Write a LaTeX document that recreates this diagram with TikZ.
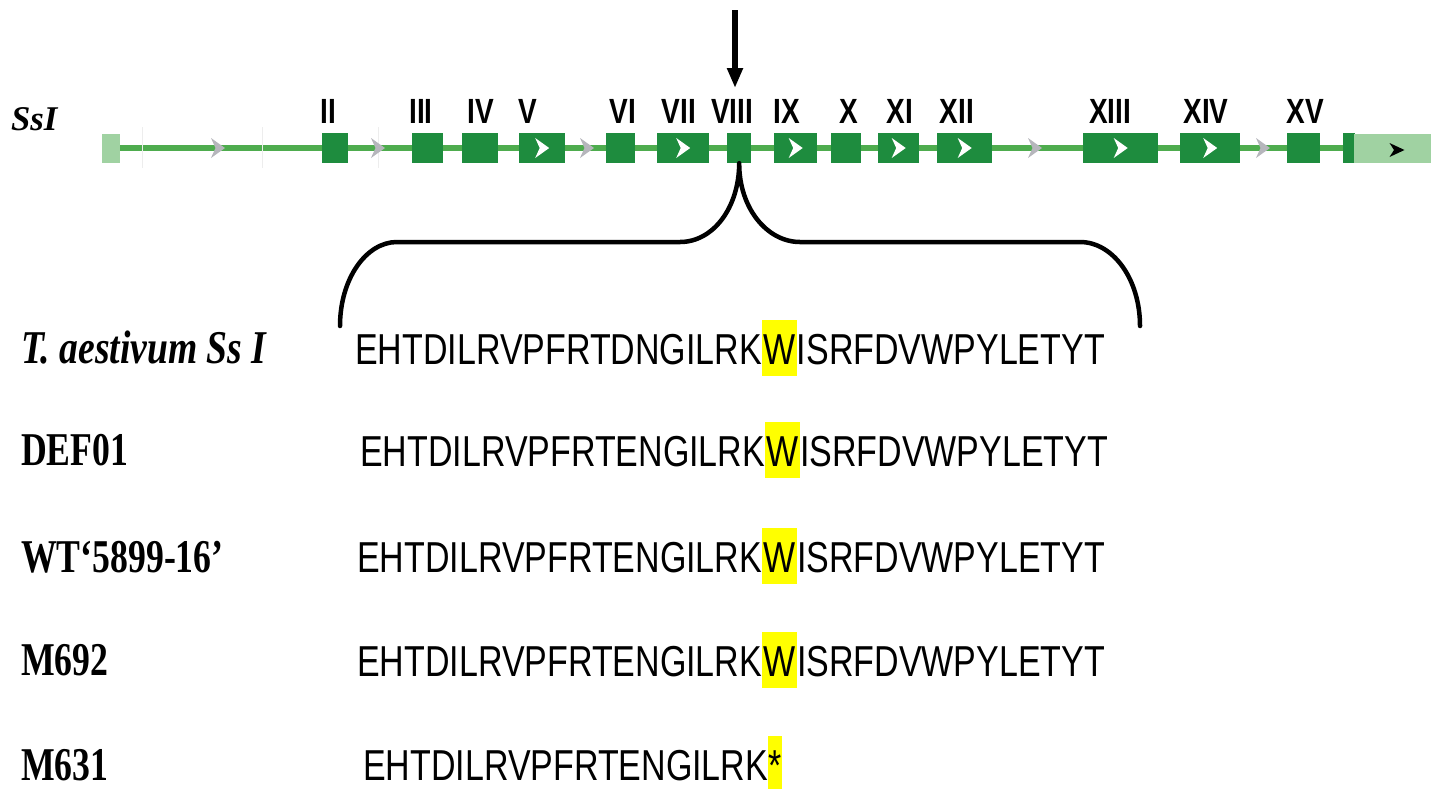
\documentclass[tikz,border=0pt]{standalone}
\usepackage{fontspec}
\usetikzlibrary{arrows.meta,backgrounds}

% fonts
\newfontfamily\seqfont[FakeStretch=0.785]{Liberation Sans}
\newfontfamily\exonfont[FakeStretch=0.80]{Liberation Sans}
\newfontfamily\lblfont[FakeStretch=0.76]{Liberation Serif}
\newfontfamily\lblitfont[FakeStretch=0.80]{Liberation Serif}
\newfontfamily\genefont{Liberation Serif}

% colours
\definecolor{exongreen}{RGB}{30,140,62}
\definecolor{introngreen}{RGB}{78,172,78}
\definecolor{utrgreen}{RGB}{160,210,162}
\definecolor{arrowgray}{RGB}{182,182,188}
\definecolor{hlyellow}{RGB}{255,255,0}

% highlighted residue
\newcommand\hlres[2][1.5pt]{{\setlength\fboxsep{0pt}\colorbox{hlyellow}{\kern#1\rule[-12pt]{0pt}{56pt}#2\kern#1}}}

\tikzset{
  exon/.style={fill=exongreen, draw=none, minimum height=30pt, inner sep=0pt, anchor=west},
  utr/.style={fill=utrgreen, draw=none, minimum height=29pt, inner sep=0pt, anchor=west},
  exonlabel/.style={anchor=base, inner sep=0pt, font=\exonfont\fontsize{35pt}{40pt}\selectfont\bfseries},
  rowlabel/.style={anchor=base west, inner sep=0pt, font=\lblfont\fontsize{47pt}{52pt}\selectfont\bfseries},
  seqrow/.style={anchor=base west, inner sep=0pt, font=\seqfont\fontsize{43.3pt}{50pt}\selectfont},
  intron/.style={draw=introngreen, line width=6pt},
  brace/.style={draw=black, line width=4.5pt, line join=round, line cap=round},
  chev/.pic={\fill (-7,-10) -- (7,0) -- (-7,10) -- (-2.5,0) -- cycle;},
  smallchev/.pic={\fill (-7.5,-7) -- (7.5,0) -- (-7.5,7) -- (-3,0) -- cycle;},
}

\begin{document}
\begin{tikzpicture}[x=1pt, y=-1pt]
\useasboundingbox (0,0) rectangle (1431,788);

% gene name
\node[anchor=base west, inner sep=0pt, font=\genefont\fontsize{34.7pt}{40pt}\selectfont\bfseries\itshape] (gene) at (11,130) {SsI};

% UTRs and exons
\node[utr, minimum width=18pt] (u1) at (102,148) {};
\foreach \n/\a/\b in {2/322/348, 3/412/443, 4/462/498, 5/519/565, 6/606/635,
                      7/657/709, 8/727/751, 9/774/817, 10/831/861, 11/878/919,
                      12/937/992, 13/1083/1158, 14/1180/1240, 15/1287/1320, 16/1343/1355}
  \node[exon, minimum width={\b-\a}] (e\n) at (\a,148) {};
\node[utr, minimum width=77pt] (u2) at (1354,148) {};

% intron backbone and faint grid marks
\begin{scope}[on background layer]
  \draw[intron] (u1.east) -- (u2.west);
  \foreach \x in {142,262,378}
    \draw[black!7, line width=1pt] (\x,127) -- (\x,168);
\end{scope}

% strand direction marks
\foreach \x in {218,378,587,1035,1263}
  \pic[fill=arrowgray] at (\x,148) {chev};
\foreach \n in {5,7,9,11,12,13,14}
  \pic[fill=white] at (e\n.center) {chev};
\pic[fill=black] at (1397,150) {smallchev};

% exon numbers
\foreach \n/\x/\t in {2/328/II, 3/421/III, 4/481/IV, 5/528/V, 6/623/VI, 7/679/VII,
                      8/732/VIII, 9/787/IX, 10/849/X, 11/900/XI, 12/957/XII,
                      13/1110/XIII, 14/1206/XIV, 15/1305/XV}
  \node[exonlabel] (l\n) at (\x,123) {\t};

% mutation site arrow
\coordinate (arrTop) at (735,10);
\coordinate (arrTip) at (735,88);
\draw[line width=5.5pt, -{Triangle[length=20pt,width=15pt]}] (arrTop) -- (arrTip);

% brace from exon VIII to the alignment
\coordinate (braceL) at (340,326);
\coordinate (braceR) at (1140,326);
\draw[brace] (braceL) .. controls (340,279) and (366,242) .. (397,242)
  -- (680,242) .. controls (713,242) and (739,208) .. (e8.south)
  .. controls (739,208) and (767,242) .. (800,242)
  -- (1080,242) .. controls (1113,242) and (1140,279) .. (braceR);

% alignment rows
\node[rowlabel, font=\lblitfont\fontsize{47pt}{52pt}\selectfont\bfseries\itshape] (r1) at (21,363) {T. aestivum Ss I};
\node[rowlabel] (r2) at (21,465) {DEF01};
\node[rowlabel] (r3) at (21,572) {WT‘5899-16’};
\node[rowlabel] (r4) at (21,675) {M692};
\node[rowlabel] (r5) at (21,780) {M631};

\node[seqrow] (s1) at (355,364) {EHTDILRVPFRTDNGILRK\hlres{W}ISRFDVWPYLETYT};
\node[seqrow] (s2) at (360,466) {EHTDILRVPFRTENGILRK\hlres{W}ISRFDVWPYLETYT};
\node[seqrow] (s3) at (357,572) {EHTDILRVPFRTENGILRK\hlres{W}ISRFDVWPYLETYT};
\node[seqrow] (s4) at (357,676) {EHTDILRVPFRTENGILRK\hlres{W}ISRFDVWPYLETYT};
\node[seqrow] (s5) at (363,780) {EHTDILRVPFRTENGILRK\hlres[0.5pt]{*}};
\end{tikzpicture}
\end{document}
